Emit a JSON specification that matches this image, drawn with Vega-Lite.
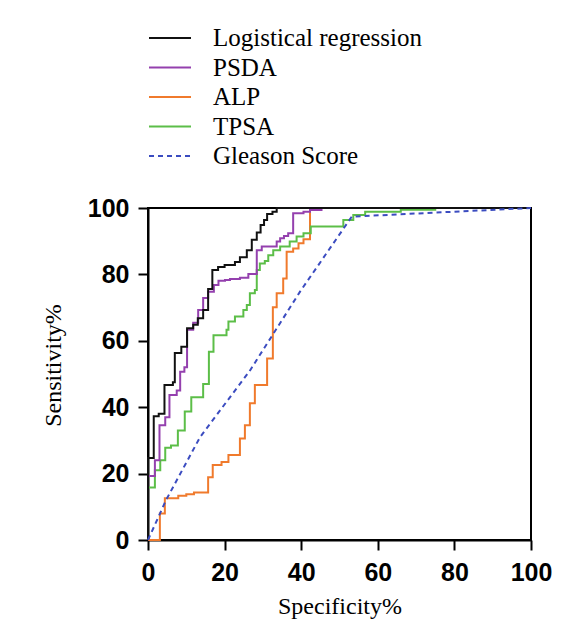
{
"$schema":"https://vega.github.io/schema/vega-lite/v6.json",
"width":383,"height":332,
"autosize":"none",
"padding":{"left":148,"top":208,"right":54,"bottom":95},
"background":"white",
"data":{"values":[
{"s":"Logistical regression","i":1,"x":0,"y":0},{"s":"Logistical regression","i":2,"x":0,"y":24.7},{"s":"Logistical regression","i":3,"x":1.5,"y":24.7},{"s":"Logistical regression","i":4,"x":1.5,"y":37.3},{"s":"Logistical regression","i":5,"x":2.8,"y":37.3},{"s":"Logistical regression","i":6,"x":2.8,"y":38},{"s":"Logistical regression","i":7,"x":4.3,"y":38},{"s":"Logistical regression","i":8,"x":4.3,"y":46.7},{"s":"Logistical regression","i":9,"x":6.5,"y":46.7},{"s":"Logistical regression","i":10,"x":6.5,"y":47.5},{"s":"Logistical regression","i":11,"x":7,"y":47.5},{"s":"Logistical regression","i":12,"x":7,"y":56.3},{"s":"Logistical regression","i":13,"x":8.7,"y":56.3},{"s":"Logistical regression","i":14,"x":8.7,"y":58.2},{"s":"Logistical regression","i":15,"x":10.2,"y":58.2},{"s":"Logistical regression","i":16,"x":10.2,"y":63.8},{"s":"Logistical regression","i":17,"x":11.8,"y":63.8},{"s":"Logistical regression","i":18,"x":11.8,"y":64.8},{"s":"Logistical regression","i":19,"x":13,"y":64.8},{"s":"Logistical regression","i":20,"x":13,"y":66.8},{"s":"Logistical regression","i":21,"x":14.4,"y":66.8},{"s":"Logistical regression","i":22,"x":14.4,"y":69.3},{"s":"Logistical regression","i":23,"x":15.7,"y":69.3},{"s":"Logistical regression","i":24,"x":15.7,"y":75.6},{"s":"Logistical regression","i":25,"x":16.8,"y":75.6},{"s":"Logistical regression","i":26,"x":16.8,"y":81.3},{"s":"Logistical regression","i":27,"x":18.3,"y":81.3},{"s":"Logistical regression","i":28,"x":18.3,"y":82.2},{"s":"Logistical regression","i":29,"x":20,"y":82.2},{"s":"Logistical regression","i":30,"x":20,"y":82.8},{"s":"Logistical regression","i":31,"x":22.7,"y":82.8},{"s":"Logistical regression","i":32,"x":22.7,"y":83.7},{"s":"Logistical regression","i":33,"x":24,"y":83.7},{"s":"Logistical regression","i":34,"x":24,"y":85.2},{"s":"Logistical regression","i":35,"x":25.8,"y":85.2},{"s":"Logistical regression","i":36,"x":25.8,"y":87.3},{"s":"Logistical regression","i":37,"x":27.1,"y":87.3},{"s":"Logistical regression","i":38,"x":27.1,"y":90.4},{"s":"Logistical regression","i":39,"x":28.4,"y":90.4},{"s":"Logistical regression","i":40,"x":28.4,"y":92.6},{"s":"Logistical regression","i":41,"x":29.4,"y":92.6},{"s":"Logistical regression","i":42,"x":29.4,"y":94.9},{"s":"Logistical regression","i":43,"x":30.3,"y":94.9},{"s":"Logistical regression","i":44,"x":30.3,"y":96.4},{"s":"Logistical regression","i":45,"x":31.1,"y":96.4},{"s":"Logistical regression","i":46,"x":31.1,"y":98.2},{"s":"Logistical regression","i":47,"x":32.5,"y":98.2},{"s":"Logistical regression","i":48,"x":32.5,"y":98.9},{"s":"Logistical regression","i":49,"x":33.6,"y":98.9},{"s":"Logistical regression","i":50,"x":33.6,"y":100},{"s":"Logistical regression","i":51,"x":100,"y":100},
{"s":"PSDA","i":1,"x":0,"y":0},{"s":"PSDA","i":2,"x":0,"y":19.3},{"s":"PSDA","i":3,"x":1.8,"y":19.3},{"s":"PSDA","i":4,"x":1.8,"y":24},{"s":"PSDA","i":5,"x":3,"y":24},{"s":"PSDA","i":6,"x":3,"y":34.6},{"s":"PSDA","i":7,"x":4.5,"y":34.6},{"s":"PSDA","i":8,"x":4.5,"y":37},{"s":"PSDA","i":9,"x":5.6,"y":37},{"s":"PSDA","i":10,"x":5.6,"y":43.7},{"s":"PSDA","i":11,"x":7.5,"y":43.7},{"s":"PSDA","i":12,"x":7.5,"y":45},{"s":"PSDA","i":13,"x":8.4,"y":45},{"s":"PSDA","i":14,"x":8.4,"y":50.7},{"s":"PSDA","i":15,"x":9.5,"y":50.7},{"s":"PSDA","i":16,"x":9.5,"y":52},{"s":"PSDA","i":17,"x":10.2,"y":52},{"s":"PSDA","i":18,"x":10.2,"y":63.3},{"s":"PSDA","i":19,"x":11.8,"y":63.3},{"s":"PSDA","i":20,"x":11.8,"y":65.4},{"s":"PSDA","i":21,"x":13.1,"y":65.4},{"s":"PSDA","i":22,"x":13.1,"y":69.3},{"s":"PSDA","i":23,"x":14.4,"y":69.3},{"s":"PSDA","i":24,"x":14.4,"y":72.9},{"s":"PSDA","i":25,"x":15.7,"y":72.9},{"s":"PSDA","i":26,"x":15.7,"y":74.8},{"s":"PSDA","i":27,"x":17.2,"y":74.8},{"s":"PSDA","i":28,"x":17.2,"y":76.8},{"s":"PSDA","i":29,"x":18.4,"y":76.8},{"s":"PSDA","i":30,"x":18.4,"y":78.1},{"s":"PSDA","i":31,"x":20.1,"y":78.1},{"s":"PSDA","i":32,"x":20.1,"y":78.3},{"s":"PSDA","i":33,"x":21.4,"y":78.3},{"s":"PSDA","i":34,"x":21.4,"y":78.6},{"s":"PSDA","i":35,"x":24,"y":78.6},{"s":"PSDA","i":36,"x":24,"y":79},{"s":"PSDA","i":37,"x":26.2,"y":79},{"s":"PSDA","i":38,"x":26.2,"y":80.1},{"s":"PSDA","i":39,"x":28.4,"y":80.1},{"s":"PSDA","i":40,"x":28.4,"y":87.3},{"s":"PSDA","i":41,"x":29.7,"y":87.3},{"s":"PSDA","i":42,"x":29.7,"y":88.4},{"s":"PSDA","i":43,"x":33.6,"y":88.4},{"s":"PSDA","i":44,"x":33.6,"y":89.9},{"s":"PSDA","i":45,"x":34.5,"y":89.9},{"s":"PSDA","i":46,"x":34.5,"y":90.9},{"s":"PSDA","i":47,"x":35.5,"y":90.9},{"s":"PSDA","i":48,"x":35.5,"y":91.6},{"s":"PSDA","i":49,"x":36.6,"y":91.6},{"s":"PSDA","i":50,"x":36.6,"y":92.4},{"s":"PSDA","i":51,"x":37.9,"y":92.4},{"s":"PSDA","i":52,"x":37.9,"y":98.4},{"s":"PSDA","i":53,"x":40.6,"y":98.4},{"s":"PSDA","i":54,"x":40.6,"y":98.9},{"s":"PSDA","i":55,"x":42.3,"y":98.9},{"s":"PSDA","i":56,"x":42.3,"y":99.4},{"s":"PSDA","i":57,"x":45.3,"y":99.4},{"s":"PSDA","i":58,"x":45.3,"y":100},{"s":"PSDA","i":59,"x":100,"y":100},
{"s":"ALP","i":1,"x":0,"y":0},{"s":"ALP","i":2,"x":3.1,"y":0},{"s":"ALP","i":3,"x":3.1,"y":8},{"s":"ALP","i":4,"x":4.4,"y":8},{"s":"ALP","i":5,"x":4.4,"y":12.6},{"s":"ALP","i":6,"x":7.9,"y":12.6},{"s":"ALP","i":7,"x":7.9,"y":13.3},{"s":"ALP","i":8,"x":10,"y":13.3},{"s":"ALP","i":9,"x":10,"y":13.8},{"s":"ALP","i":10,"x":12,"y":13.8},{"s":"ALP","i":11,"x":12,"y":14.3},{"s":"ALP","i":12,"x":15.7,"y":14.3},{"s":"ALP","i":13,"x":15.7,"y":18.9},{"s":"ALP","i":14,"x":16.9,"y":18.9},{"s":"ALP","i":15,"x":16.9,"y":22.6},{"s":"ALP","i":16,"x":19.2,"y":22.6},{"s":"ALP","i":17,"x":19.2,"y":23.5},{"s":"ALP","i":18,"x":21,"y":23.5},{"s":"ALP","i":19,"x":21,"y":25.6},{"s":"ALP","i":20,"x":24,"y":25.6},{"s":"ALP","i":21,"x":24,"y":30.6},{"s":"ALP","i":22,"x":25.3,"y":30.6},{"s":"ALP","i":23,"x":25.3,"y":34.6},{"s":"ALP","i":24,"x":26.6,"y":34.6},{"s":"ALP","i":25,"x":26.6,"y":41.2},{"s":"ALP","i":26,"x":27.9,"y":41.2},{"s":"ALP","i":27,"x":27.9,"y":46.7},{"s":"ALP","i":28,"x":31.1,"y":46.7},{"s":"ALP","i":29,"x":31.1,"y":54.7},{"s":"ALP","i":30,"x":32.6,"y":54.7},{"s":"ALP","i":31,"x":32.6,"y":70.1},{"s":"ALP","i":32,"x":33.6,"y":70.1},{"s":"ALP","i":33,"x":33.6,"y":74.3},{"s":"ALP","i":34,"x":35.3,"y":74.3},{"s":"ALP","i":35,"x":35.3,"y":78.8},{"s":"ALP","i":36,"x":36.2,"y":78.8},{"s":"ALP","i":37,"x":36.2,"y":86.8},{"s":"ALP","i":38,"x":37.9,"y":86.8},{"s":"ALP","i":39,"x":37.9,"y":87.8},{"s":"ALP","i":40,"x":39.3,"y":87.8},{"s":"ALP","i":41,"x":39.3,"y":89.4},{"s":"ALP","i":42,"x":40.6,"y":89.4},{"s":"ALP","i":43,"x":40.6,"y":90.6},{"s":"ALP","i":44,"x":42.3,"y":90.6},{"s":"ALP","i":45,"x":42.3,"y":99.4},{"s":"ALP","i":46,"x":45,"y":99.4},{"s":"ALP","i":47,"x":45,"y":100},{"s":"ALP","i":48,"x":100,"y":100},
{"s":"TPSA","i":1,"x":0,"y":0},{"s":"TPSA","i":2,"x":0,"y":15.8},{"s":"TPSA","i":3,"x":1.8,"y":15.8},{"s":"TPSA","i":4,"x":1.8,"y":21},{"s":"TPSA","i":5,"x":3.2,"y":21},{"s":"TPSA","i":6,"x":3.2,"y":24},{"s":"TPSA","i":7,"x":4.5,"y":24},{"s":"TPSA","i":8,"x":4.5,"y":27.8},{"s":"TPSA","i":9,"x":6,"y":27.8},{"s":"TPSA","i":10,"x":6,"y":28.5},{"s":"TPSA","i":11,"x":7.8,"y":28.5},{"s":"TPSA","i":12,"x":7.8,"y":33},{"s":"TPSA","i":13,"x":9.6,"y":33},{"s":"TPSA","i":14,"x":9.6,"y":38.7},{"s":"TPSA","i":15,"x":11.3,"y":38.7},{"s":"TPSA","i":16,"x":11.3,"y":43},{"s":"TPSA","i":17,"x":14.4,"y":43},{"s":"TPSA","i":18,"x":14.4,"y":47},{"s":"TPSA","i":19,"x":15.9,"y":47},{"s":"TPSA","i":20,"x":15.9,"y":56.7},{"s":"TPSA","i":21,"x":17.1,"y":56.7},{"s":"TPSA","i":22,"x":17.1,"y":61.7},{"s":"TPSA","i":23,"x":20.5,"y":61.7},{"s":"TPSA","i":24,"x":20.5,"y":63.3},{"s":"TPSA","i":25,"x":21,"y":63.3},{"s":"TPSA","i":26,"x":21,"y":65.8},{"s":"TPSA","i":27,"x":22.7,"y":65.8},{"s":"TPSA","i":28,"x":22.7,"y":67.3},{"s":"TPSA","i":29,"x":24.9,"y":67.3},{"s":"TPSA","i":30,"x":24.9,"y":69.3},{"s":"TPSA","i":31,"x":25.8,"y":69.3},{"s":"TPSA","i":32,"x":25.8,"y":70.8},{"s":"TPSA","i":33,"x":26.6,"y":70.8},{"s":"TPSA","i":34,"x":26.6,"y":74.3},{"s":"TPSA","i":35,"x":27.9,"y":74.3},{"s":"TPSA","i":36,"x":27.9,"y":75.3},{"s":"TPSA","i":37,"x":28.4,"y":75.3},{"s":"TPSA","i":38,"x":28.4,"y":81.3},{"s":"TPSA","i":39,"x":29.2,"y":81.3},{"s":"TPSA","i":40,"x":29.2,"y":83.3},{"s":"TPSA","i":41,"x":30.5,"y":83.3},{"s":"TPSA","i":42,"x":30.5,"y":84},{"s":"TPSA","i":43,"x":31.4,"y":84},{"s":"TPSA","i":44,"x":31.4,"y":85.8},{"s":"TPSA","i":45,"x":32.7,"y":85.8},{"s":"TPSA","i":46,"x":32.7,"y":87.3},{"s":"TPSA","i":47,"x":34.5,"y":87.3},{"s":"TPSA","i":48,"x":34.5,"y":88.4},{"s":"TPSA","i":49,"x":37,"y":88.4},{"s":"TPSA","i":50,"x":37,"y":89.9},{"s":"TPSA","i":51,"x":38.8,"y":89.9},{"s":"TPSA","i":52,"x":38.8,"y":91.4},{"s":"TPSA","i":53,"x":40.6,"y":91.4},{"s":"TPSA","i":54,"x":40.6,"y":92.4},{"s":"TPSA","i":55,"x":42.5,"y":92.4},{"s":"TPSA","i":56,"x":42.5,"y":94.4},{"s":"TPSA","i":57,"x":51,"y":94.4},{"s":"TPSA","i":58,"x":51,"y":96.4},{"s":"TPSA","i":59,"x":53.6,"y":96.4},{"s":"TPSA","i":60,"x":53.6,"y":97.9},{"s":"TPSA","i":61,"x":56.7,"y":97.9},{"s":"TPSA","i":62,"x":56.7,"y":98.9},{"s":"TPSA","i":63,"x":66,"y":98.9},{"s":"TPSA","i":64,"x":66,"y":99.5},{"s":"TPSA","i":65,"x":75,"y":99.5},{"s":"TPSA","i":66,"x":75,"y":100},{"s":"TPSA","i":67,"x":100,"y":100},
{"s":"Gleason Score","i":1,"x":0,"y":0},{"s":"Gleason Score","i":2,"x":4.7,"y":12},{"s":"Gleason Score","i":3,"x":13.6,"y":31},{"s":"Gleason Score","i":4,"x":26.6,"y":51},{"s":"Gleason Score","i":5,"x":39.7,"y":74.8},{"s":"Gleason Score","i":6,"x":53.2,"y":97.4},{"s":"Gleason Score","i":7,"x":100,"y":100}
]},
"encoding":{
"x":{"field":"x","type":"quantitative","scale":{"domain":[0,100],"nice":false,"zero":false},"axis":{"title":"Specificity%","values":[0,20,40,60,80,100],"labelPadding":10,"titlePadding":9}},
"y":{"field":"y","type":"quantitative","scale":{"domain":[0,100],"nice":false,"zero":false},"axis":{"title":"Sensitivity%","values":[0,20,40,60,80,100],"labelPadding":9,"titlePadding":22,"titleY":157}},
"color":{"field":"s","type":"nominal","scale":{"domain":["Logistical regression","PSDA","ALP","TPSA","Gleason Score"],"range":["#111111","#9440AE","#F07A2C","#5CBE48","#3B4CC0"]},"legend":{"title":null}},
"strokeDash":{"field":"s","type":"nominal","scale":{"domain":["Logistical regression","PSDA","ALP","TPSA","Gleason Score"],"range":[[1,0],[1,0],[1,0],[1,0],[5,4]]},"legend":{"title":null}},
"order":{"field":"i","type":"quantitative"}
},
"layer":[
{"transform":[{"filter":"datum.s === 'ALP'"}],"mark":{"type":"line","strokeWidth":2,"clip":false}},
{"transform":[{"filter":"datum.s === 'TPSA'"}],"mark":{"type":"line","strokeWidth":2,"clip":false}},
{"transform":[{"filter":"datum.s === 'PSDA'"}],"mark":{"type":"line","strokeWidth":2,"clip":false}},
{"transform":[{"filter":"datum.s === 'Logistical regression'"}],"mark":{"type":"line","strokeWidth":2,"clip":false}},
{"transform":[{"filter":"datum.s === 'Gleason Score'"}],"mark":{"type":"line","strokeWidth":2,"clip":false}}
],
"config":{
"view":{"stroke":"black","strokeWidth":2},
"axis":{"grid":false,"domainColor":"black","domainWidth":2,"tickColor":"black","tickWidth":2,"tickSize":10,"labelFont":"Liberation Sans","labelFontWeight":"bold","labelFontSize":25,"labelColor":"black","labelFlush":false,"labelOverlap":false,"titleFont":"Liberation Serif","titleFontWeight":"normal","titleFontSize":24,"titleColor":"black"},
"legend":{"orient":"none","legendX":0,"legendY":-182,"padding":0,"labelFont":"Liberation Serif","labelFontSize":25,"labelColor":"black","symbolType":"stroke","symbolSize":1764,"symbolStrokeWidth":2,"labelOffset":21,"clipHeight":24,"rowPadding":4.5,"labelLimit":400}
}
}
